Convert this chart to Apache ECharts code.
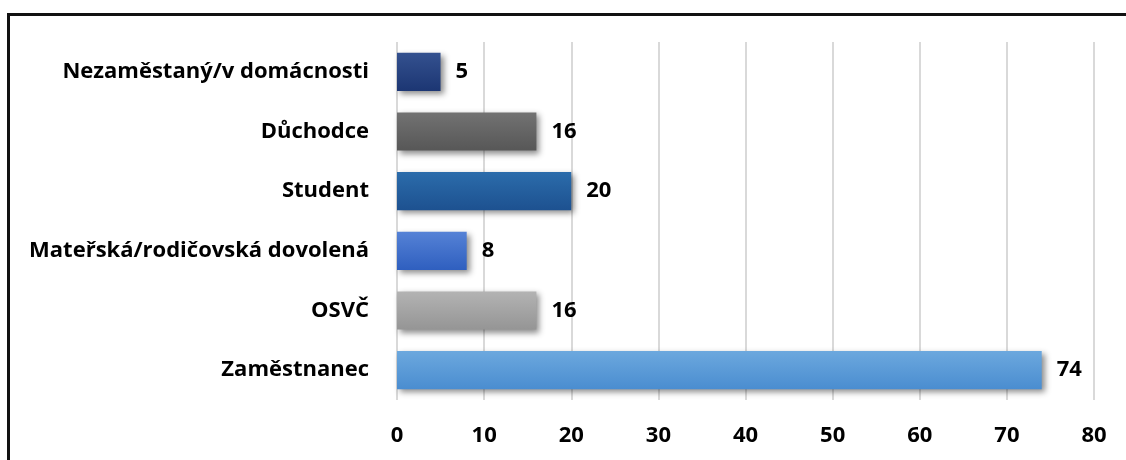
<!DOCTYPE html>
<html>
<head>
<meta charset="utf-8">
<script src="https://cdn.jsdelivr.net/npm/echarts@6/dist/echarts.min.js"></script>
<style>
  html, body { margin: 0; padding: 0; background: #ffffff; }
  #frame {
    position: absolute; left: 7px; top: 13px; width: 1130px; height: 460px;
    border-left: 3px solid #111; border-top: 3px solid #111; box-sizing: border-box;
  }
  #chart { position: absolute; left: 0; top: 0; width: 1126px; height: 460px; }
</style>
</head>
<body>
<div id="frame"></div>
<div id="chart"></div>
<script>
// Categories listed bottom to top (category axis starts at the bottom)
const categories = ['Zaměstnanec', 'OSVČ', 'Mateřská/rodičovská dovolená', 'Student', 'Důchodce', 'Nezaměstaný/v domácnosti'];
const values = [74, 16, 8, 20, 16, 5];
// Gradient colours per bar: [top, bottom]
const barColors = [
  ['#6ca8de', '#4a8dd0'],
  ['#b3b3b3', '#959595'],
  ['#5582d6', '#2f5fbf'],
  ['#2b6cab', '#1d5190'],
  ['#727272', '#575757'],
  ['#34518f', '#1c3673']
];
const xTicks = { min: 0, max: 80, interval: 10 };

const font = '"Open Sans", Lato, sans-serif';

const chart = echarts.init(document.getElementById('chart'), null, { renderer: 'canvas' });
chart.setOption({
  animation: false,
  grid: { left: 397, right: 32, top: 42, bottom: 60, containLabel: false },
  xAxis: {
    type: 'value',
    min: xTicks.min, max: xTicks.max, interval: xTicks.interval,
    axisLine: { show: false },
    axisTick: { show: false },
    splitLine: { show: true, lineStyle: { color: '#d9d9d9', width: 2 } },
    axisLabel: { color: '#000', fontFamily: font, fontWeight: 'bold', fontSize: 22, margin: 25 }
  },
  yAxis: {
    type: 'category',
    data: categories,
    axisLine: { show: false },
    axisTick: { show: false },
    axisLabel: { color: '#000', fontFamily: font, fontWeight: 'bold', fontSize: 22, margin: 28 }
  },
  series: [{
    type: 'bar',
    barCategoryGap: '36%',
    data: values.map((v, i) => ({
      value: v,
      itemStyle: {
        color: new echarts.graphic.LinearGradient(0, 0, 0, 1, [
          { offset: 0, color: barColors[i][0] },
          { offset: 1, color: barColors[i][1] }
        ])
      }
    })),
    itemStyle: {
      shadowColor: 'rgba(0,0,0,0.45)',
      shadowBlur: 6,
      shadowOffsetX: 3,
      shadowOffsetY: 3
    },
    label: {
      show: true, position: 'right', distance: 15,
      color: '#000', fontFamily: font, fontWeight: 'bold', fontSize: 22
    }
  }]
});
</script>
</body>
</html>
